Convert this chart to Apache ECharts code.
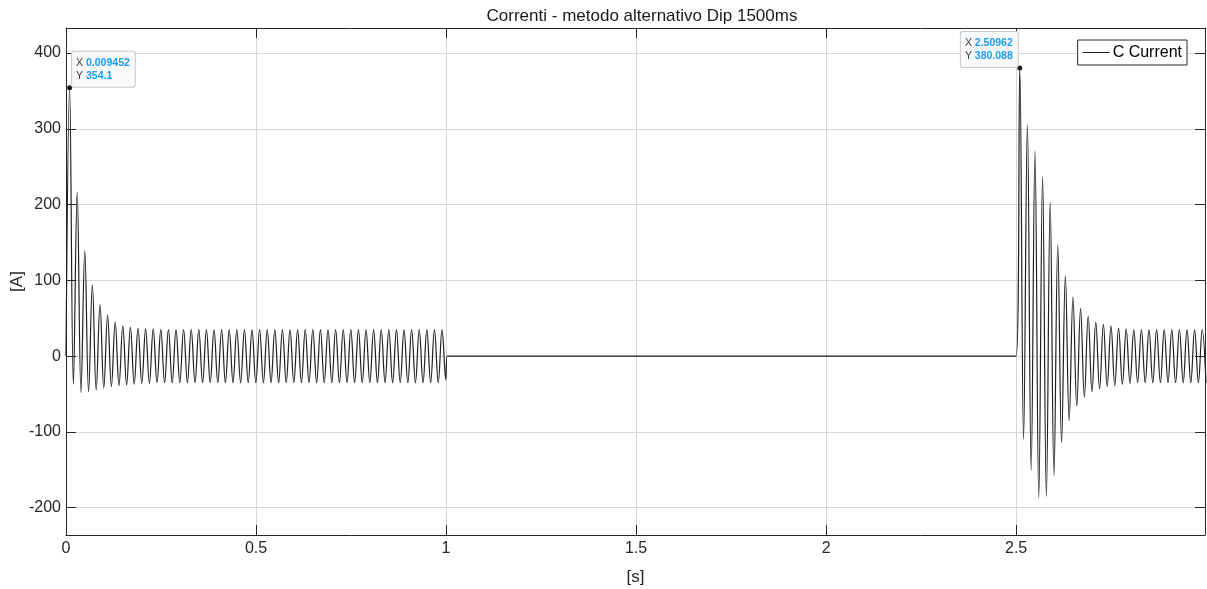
<!DOCTYPE html>
<html>
<head>
<meta charset="utf-8">
<script src="https://cdn.jsdelivr.net/npm/echarts@6/dist/echarts.min.js"></script>
<style>
  html, body { margin: 0; padding: 0; background: #fff; }
  #chart { width: 1207px; height: 589px; }
</style>
</head>
<body>
<div id="chart"></div>
<script>
// extremes of each half cycle (50 Hz)
const halfPeriod = 0.01

// first energisation, starting at the first datatip
const seg1Start = 0.009452
const seg1Peaks = [354.1, 216, 139, 94, 68, 54, 45, 40, 38, 37,
  36, 36, 35, 35, 35, 35, 35, 35, 35, 35,
  35, 35, 35, 35, 35, 35, 35, 35, 35, 35,
  35, 35, 35, 35, 35, 35, 35, 35, 35, 35,
  35, 35, 35, 35, 35, 35, 35, 35, 35, 35]
const seg1Troughs = [-37, -48, -47, -45, -42, -40, -39, -38, -37, -36,
  -36, -35, -35, -35, -35, -35, -35, -35, -35, -35,
  -35, -35, -35, -35, -35, -35, -35, -35, -35, -35,
  -35, -35, -35, -35, -35, -35, -35, -35, -35, -35,
  -35, -35, -35, -35, -35, -35, -35, -35, -35, -31]
const seg1End = 1.003

// re-energisation after the dip
const seg2Rise = 2.5
const seg2Start = 2.50962
const seg2Peaks = [380.088, 306, 271, 237, 203, 147, 106, 78, 63, 53,
  45, 42, 40, 37, 36, 35, 35, 35, 35, 35,
  35, 35, 35, 35, 35]
const seg2Troughs = [-110, -151, -187, -185, -158, -114, -85, -66, -54, -47,
  -43, -40, -39, -37, -36, -35, -35, -35, -35, -35,
  -35, -35, -35, -35, -35]

// datatips
const tipX = [0.009452, 2.50962]
const tipY = [354.1, 380.088]
const tipText = ['0.009452', '2.50962']
const tipValText = ['354.1', '380.088']

const xMax = 2.997
const yMin = -236
const yMax = 433

function segment(start, peaks, troughs) {
  let pts = []
  for (let i = 0; i < peaks.length; i++) {
    pts.push([start + 2 * i * halfPeriod, peaks[i]])
    pts.push([start + (2 * i + 1) * halfPeriod, troughs[i]])
  }
  return pts
}

let data = [[0, 0]]
  .concat(segment(seg1Start, seg1Peaks, seg1Troughs))
  .concat([[seg1End, 0], [seg2Rise, 0]])
  .concat(segment(seg2Start, seg2Peaks, seg2Troughs))

const font = 'Liberation Sans'
const axisColor = '#262626'
const gridColor = '#d6d6d6'

function xLabel(v) {
  return Math.abs(v * 2 - Math.round(v * 2)) < 1e-6 ? String(v) : ''
}
function yLabel(v) {
  return Math.abs(v % 100) < 1e-6 ? String(Math.round(v)) : ''
}

const tipLabel = {
  show: true,
  fontFamily: font,
  fontSize: 10.5,
  lineHeight: 13,
  backgroundColor: '#f8f9fa',
  borderColor: '#c9c9c9',
  borderWidth: 1,
  borderRadius: 2,
  padding: [5, 5, 4, 4],
  rich: {
    k: { color: '#404040', fontSize: 10.5, fontFamily: font },
    v: { color: '#1a9cf2', fontSize: 10.5, fontWeight: 'bold', fontFamily: font }
  }
}

const boxLine = { show: true, onZero: false, lineStyle: { color: axisColor, width: 1 } }
const inTick = { show: true, inside: true, length: 10, lineStyle: { color: axisColor } }

let myChart = echarts.init(document.getElementById('chart'), null, { renderer: 'canvas' })

let option = {
  animation: false,
  backgroundColor: '#fff',
  title: {
    text: 'Correnti - metodo alternativo Dip 1500ms',
    left: 637,
    textAlign: 'center',
    top: 3,
    textStyle: { fontFamily: font, fontSize: 17, fontWeight: 'normal', color: '#1a1a1a' }
  },
  legend: {
    data: ['C Current'],
    right: 20,
    top: 40,
    padding: [4, 5, 4, 5],
    icon: 'rect',
    itemWidth: 27,
    itemHeight: 1,
    itemGap: 0,
    borderColor: axisColor,
    borderWidth: 1,
    backgroundColor: '#fff',
    textStyle: { fontFamily: font, fontSize: 16, color: '#000', lineHeight: 17, padding: [0, 0, 0, -2] }
  },
  grid: { left: 66, right: 2, top: 28, bottom: 54, outerBoundsMode: 'none', containLabel: false },
  xAxis: [
    {
      type: 'value',
      min: 0,
      max: xMax,
      interval: 0.5,
      name: '[s]',
      nameLocation: 'middle',
      nameGap: 34,
      nameMoveOverlap: false,
      nameTextStyle: { fontFamily: font, fontSize: 17, color: axisColor },
      axisLine: boxLine,
      axisTick: inTick,
      axisLabel: { fontFamily: font, fontSize: 16, color: axisColor, margin: 6, formatter: xLabel },
      splitLine: { show: true, lineStyle: { color: gridColor, width: 1 } }
    },
    {
      type: 'value',
      position: 'top',
      min: 0,
      max: xMax,
      interval: 0.5,
      axisLine: boxLine,
      axisTick: inTick,
      axisLabel: { show: false },
      splitLine: { show: false }
    }
  ],
  yAxis: [
    {
      type: 'value',
      position: 'left',
      min: yMin,
      max: yMax,
      minInterval: 100,
      maxInterval: 100,
      name: '[A]',
      nameLocation: 'middle',
      nameRotate: 90,
      nameGap: 40,
      nameMoveOverlap: false,
      nameTextStyle: { fontFamily: font, fontSize: 17, color: axisColor },
      axisLine: boxLine,
      axisTick: inTick,
      axisLabel: { show: true, fontFamily: font, fontSize: 16, color: axisColor, margin: 5, formatter: yLabel },
      splitLine: { show: true, lineStyle: { color: gridColor, width: 1 } }
    },
    {
      type: 'value',
      position: 'right',
      min: yMin,
      max: yMax,
      minInterval: 100,
      maxInterval: 100,
      axisLine: boxLine,
      axisTick: inTick,
      axisLabel: { show: false },
      splitLine: { show: false }
    }
  ],
  series: [
    {
      name: 'C Current',
      type: 'line',
      data: data,
      symbol: 'none',
      smooth: 0.4,
      clip: true,
      color: '#1f1f1f',
      lineStyle: { color: '#1f1f1f', width: 1.2 },
      emphasis: { disabled: true },
      markPoint: {
        symbol: 'circle',
        symbolSize: 5,
        itemStyle: { color: '#1a1a1a' },
        emphasis: { disabled: true },
        data: [
          {
            coord: [tipX[0], tipY[0]],
            label: Object.assign({}, tipLabel, {
              position: [5, 1.5], align: 'left', verticalAlign: 'bottom',
              formatter: '{k|X} {v|' + tipText[0] + '}\n{k|Y} {v|' + tipValText[0] + '}'
            })
          },
          {
            coord: [tipX[1], tipY[1]],
            label: Object.assign({}, tipLabel, {
              position: [0.5, 1.5], align: 'right', verticalAlign: 'bottom',
              formatter: '{k|X} {v|' + tipText[1] + '}\n{k|Y} {v|' + tipValText[1] + '}'
            })
          }
        ]
      }
    }
  ]
}

myChart.setOption(option)
</script>
</body>
</html>
